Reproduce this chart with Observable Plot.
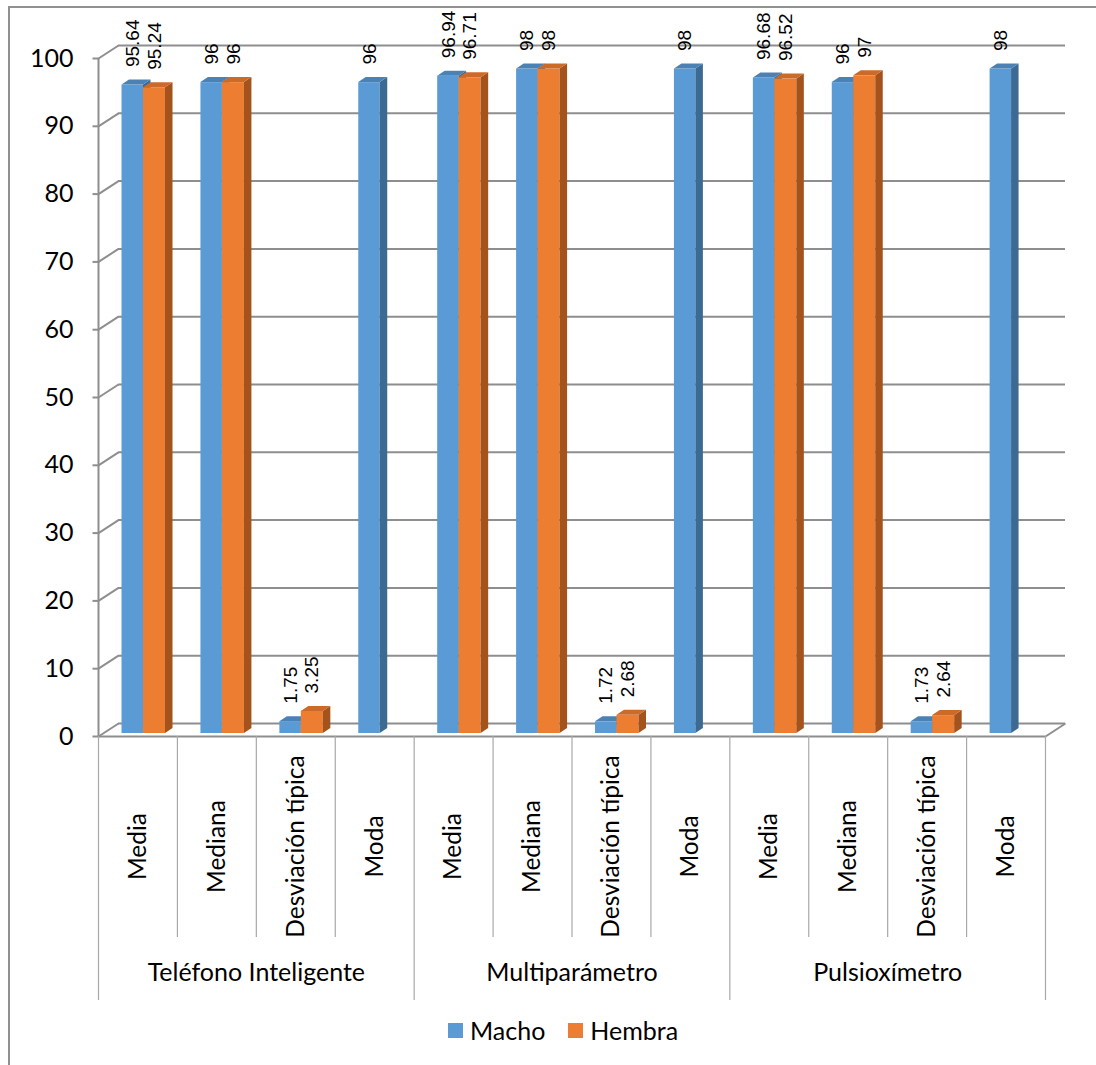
<!DOCTYPE html>
<html>
<head>
<meta charset="utf-8">
<script src="https://cdn.jsdelivr.net/npm/d3@7"></script>
<script src="https://cdn.jsdelivr.net/npm/@observablehq/plot@0.6"></script>
<style>
  body { margin: 0; background: #fff; }
  #frame { position: absolute; left: 8px; top: 6px; width: 1200px; height: 1200px; border: 2px solid #909090; box-sizing: border-box; }
  #chart { position: absolute; left: 0; top: 0; }
  #legend { position: absolute; top: 1015px; left: 448px; display: flex; align-items: center; font-family: Lato, sans-serif; font-size: 25px; color: #000; }
  #legend .sw { width: 15px; height: 15px; display: inline-block; margin-right: 7px; }
  #legend .item { display: flex; align-items: center; margin-right: 23px; }
</style>
</head>
<body>
<div id="frame"></div>
<div id="chart"></div>
<div id="legend"></div>
<script>
// Oxygen saturation statistics by device and sex
const groups = ["Teléfono Inteligente", "Multiparámetro", "Pulsioxímetro"];
const stats = ["Media", "Mediana", "Desviación típica", "Moda"];
const series = ["Macho", "Hembra"];
const macho  = [95.64, 96, 1.75, 96, 96.94, 98, 1.72, 98, 96.68, 96, 1.73, 98];
const hembra = [95.24, 96, 3.25, null, 96.71, 98, 2.68, null, 96.52, 97, 2.64, null];
const yTicks = [0, 10, 20, 30, 40, 50, 60, 70, 80, 90, 100];

const colors = {
  Macho:  { front: "#5B9BD5", top: "#4A82B6", side: "#3D6A93" },
  Hembra: { front: "#ED7D31", top: "#CC6A28", side: "#A5531D" }
};

// Layout
const W = 1096, H = 1010, ML = 98, MR = 51, MT = 58, MB = 274;
const xPx = (W - ML - MR) / 12;       // pixels per category
const yPx = (H - MT - MB) / 100;      // pixels per unit
const px = v => v / xPx, py = v => v / yPx;
const wallX = px(20), wallY = py(13);     // back-wall offset
const depX = px(7.5), depY = py(5);       // bar depth offset
const slot = { Macho: [0.298, 0.570], Hembra: [0.570, 0.849] };

// One record per bar
const cats = [];
groups.forEach((g, gi) => stats.forEach((s, si) => cats.push({ i: gi * 4 + si, group: g, stat: s })));
const bars = [];
cats.forEach(c => {
  [["Macho", macho[c.i]], ["Hembra", hembra[c.i]]].forEach(([name, v]) => {
    if (v == null) return;
    bars.push({ id: name + c.i, series: name, value: v, x1: c.i + slot[name][0], x2: c.i + slot[name][1] });
  });
});

// Right and top faces of each bar as areas
const sides = bars.flatMap(b => [
  { id: b.id, series: b.series, x: b.x2, lo: 0, hi: b.value },
  { id: b.id, series: b.series, x: b.x2 + depX, lo: depY, hi: b.value + depY }
]);
const tops = bars.flatMap(b => [
  { id: b.id, series: b.series, x: b.x1, lo: b.value, hi: b.value },
  { id: b.id, series: b.series, x: b.x1 + depX, lo: b.value, hi: b.value + depY },
  { id: b.id, series: b.series, x: b.x2, lo: b.value, hi: b.value + depY },
  { id: b.id, series: b.series, x: b.x2 + depX, lo: b.value + depY, hi: b.value + depY }
]);

const grid = "#8E8E8E";
const sep = "#A8A8A8";
const catFont = "Lato, sans-serif";
const barLift = -3;

const plot = Plot.plot({
  width: W, height: H,
  marginLeft: ML, marginRight: MR, marginTop: MT, marginBottom: MB,
  style: { fontFamily: catFont, fontSize: "25px", color: "#000", background: "transparent", overflow: "visible" },
  x: { type: "linear", domain: [0, 12], axis: null },
  y: { domain: [0, 100], ticks: yTicks, tickSize: 0, tickPadding: 25, label: null },
  marks: [
    // back wall
    Plot.ruleY(yTicks, { y: d => d + wallY, x1: wallX, x2: 12 + wallX, stroke: grid, strokeWidth: 2 }),
    // side wall
    Plot.link(yTicks, { x1: 0, y1: d => d, x2: wallX, y2: d => d + wallY, stroke: grid, strokeWidth: 2 }),
    // floor
    Plot.link([0], { x1: 12, y1: 0, x2: 12 + wallX, y2: wallY, stroke: grid, strokeWidth: 2 }),
    Plot.ruleY([0], { x1: 0, x2: 12, stroke: grid, strokeWidth: 2 }),
    // axis line and ticks
    Plot.ruleX([0], { y1: 0, y2: 100, stroke: grid, strokeWidth: 2 }),
    Plot.link(yTicks, { x1: px(-6), x2: 0, y1: d => d, y2: d => d, stroke: grid, strokeWidth: 2 }),
    // bars
    ...series.flatMap(name => [
      Plot.rectY(bars.filter(b => b.series === name), { x1: "x1", x2: "x2", y1: 0, y2: "value", fill: colors[name].front, dy: barLift }),
      Plot.areaY(sides.filter(b => b.series === name), { x: "x", y1: "lo", y2: "hi", z: "id", fill: colors[name].side, dy: barLift }),
      Plot.areaY(tops.filter(b => b.series === name), { x: "x", y1: "lo", y2: "hi", z: "id", fill: colors[name].top, dy: barLift })
    ]),
    // value labels
    Plot.text(bars, {
      x: d => (d.x1 + d.x2) / 2, y: "value", text: d => String(d.value),
      rotate: -90, textAnchor: "start", dy: barLift - 18,
      fontFamily: "'Liberation Sans', Arial, sans-serif", fontSize: 19, fill: "#000"
    }),
    // category separators
    Plot.ruleX(d3.range(0, 13), { y1: 0, y2: d => d % 4 === 0 ? py(-264) : py(-201), stroke: sep, strokeWidth: 1.2 }),
    // category labels
    Plot.text(cats, { x: d => d.i + 0.5, y: py(-110), text: "stat", rotate: -90, textAnchor: "middle", fontSize: 24.5, fill: "#000" }),
    // group labels
    Plot.text(groups, { x: (d, i) => i * 4 + 2, y: py(-236), text: d => d, fontSize: 25, fill: "#000" })
  ]
});
document.getElementById("chart").appendChild(plot);

// legend
const legend = document.getElementById("legend");
series.forEach(name => {
  const item = document.createElement("span");
  item.className = "item";
  const sw = document.createElement("span");
  sw.className = "sw";
  sw.style.background = colors[name].front;
  item.appendChild(sw);
  item.appendChild(document.createTextNode(name));
  legend.appendChild(item);
});
</script>
</body>
</html>
